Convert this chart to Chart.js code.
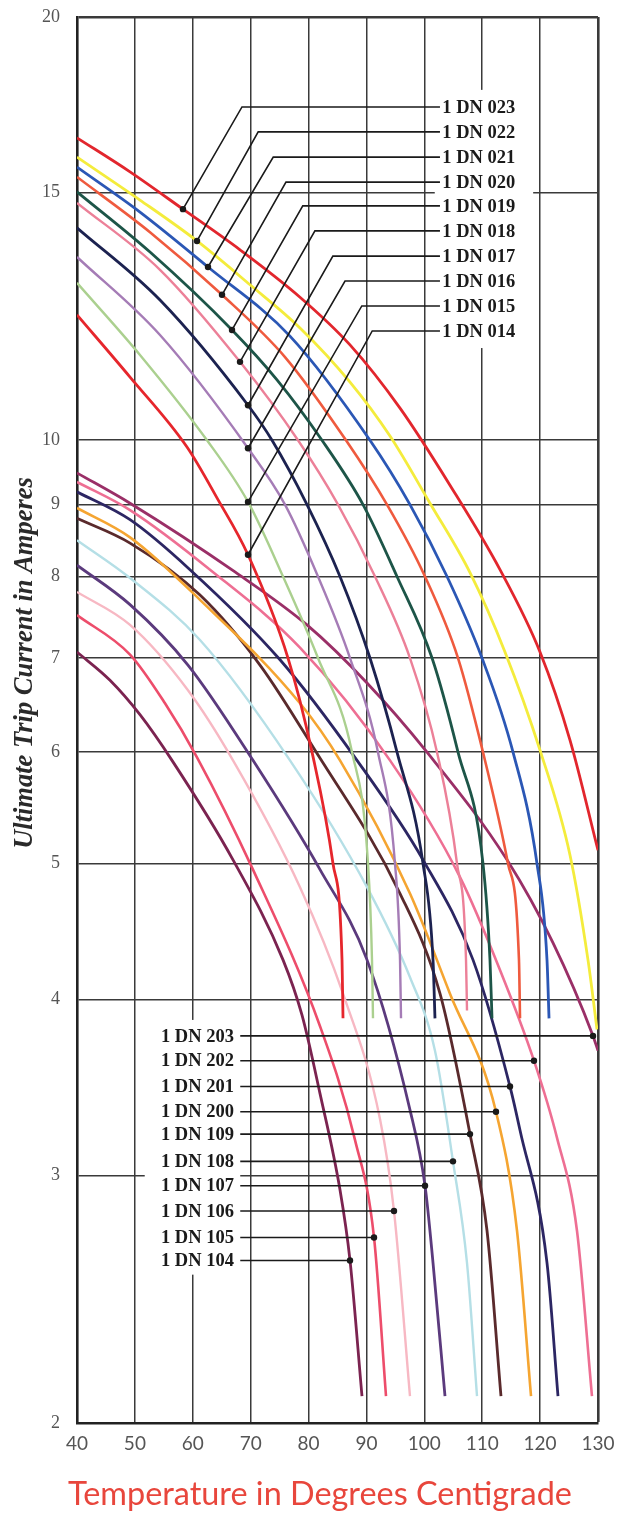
<!DOCTYPE html>
<html><head><meta charset="utf-8">
<script src="https://cdn.jsdelivr.net/npm/chart.js@4.4.1/dist/chart.umd.min.js"></script>
<style>html,body{margin:0;padding:0;background:#fff;}canvas{display:block;}</style>
</head><body>
<canvas id="c" width="623" height="1513"></canvas>
<script>
// ---- data: [temperature °C, ultimate trip current A] ----
const dn023 = [[40,16.41],[49.16,15.52],[58.31,14.60],[68.16,13.66],[78.52,12.64],[87.16,11.69],[95.80,10.54],[104.43,9.29],[113.07,8.09],[119.98,7.07],[125.16,6.12],[130,5.11]];
const dn022 = [[40,15.90],[50.88,14.82],[60.73,13.86],[69.89,12.90],[78.52,12.02],[87.16,11.00],[94.07,10.07],[100.98,9.02],[107.89,8.05],[113.93,7.07],[119.98,6.02],[125.16,5.07],[128.27,4.27],[129.83,3.81]];
const dn021 = [[40,15.64],[50.88,14.53],[62.63,13.28],[76.79,11.86],[90.61,10.0],[97.52,9.0],[103.92,8.0],[109.96,7.0],[115.32,6.0],[119.46,5.0],[121.19,4.27],[121.54,3.88]];
const dn020 = [[40,15.39],[52.61,14.06],[65.05,12.69],[75.93,11.46],[86.47,10.0],[93.55,9.0],[100.12,8.0],[105.82,7.0],[110.13,6.0],[114.45,5.0],[116.35,4.27],[116.53,3.88]];
const dn019 = [[40,15.02],[52.61,13.61],[66.78,11.98],[74.55,11.04],[82.32,10.0],[89.41,9.0],[95.28,8.0],[101.33,7.0],[105.82,6.0],[110.13,5.0],[111.34,4.27],[111.69,3.88]];
const dn018 = [[40,14.75],[54.34,13.22],[68.16,11.37],[78.18,10.0],[85.09,9.0],[91.48,8.0],[97.52,7.0],[102.19,6.0],[105.64,5.0],[107.20,4.27],[107.37,3.93]];
const dn017 = [[40,14.16],[54.34,12.58],[69.54,10.59],[73.69,10.0],[79.73,9.0],[85.43,8.0],[90.61,7.0],[95.28,6.0],[99.77,5.0],[101.50,4.27],[101.84,3.88]];
const dn016 = [[40,13.50],[54.34,11.88],[69.54,9.87],[75.93,9.0],[81.63,8.0],[87.16,7.0],[91.99,6.0],[94.93,5.0],[95.80,4.27],[95.97,3.88]];
const dn015 = [[40,12.94],[50.88,11.50],[62.46,10.0],[69.54,9.04],[75.59,8.0],[81.63,7.0],[87.51,6.0],[90.27,5.0],[90.96,4.27],[91.13,3.88]];
const dn014 = [[40,12.28],[49.16,11.09],[59.00,9.89],[64.18,9.10],[69.54,8.29],[76.45,7.0],[80.60,6.0],[84.22,5.0],[85.78,4.27],[85.95,3.88]];

const dn203 = [[40,9.48],[49.16,9.02],[67.29,8.06],[79.73,7.39],[90.10,6.72],[100.46,6.0],[114.28,5.03],[122.23,4.39],[129.14,3.77],[130,3.68]];
const dn202 = [[40,9.34],[49.16,8.92],[62.98,8.09],[78.52,7.12],[94.07,5.92],[106.16,4.89],[113.07,4.20],[118.94,3.62],[122.92,3.19],[126.37,2.74],[128.96,2.09]];
const dn201 = [[40,9.19],[49.16,8.78],[59.52,8.09],[75.07,6.98],[88.37,5.92],[99.77,5.03],[108.41,4.27],[114.80,3.47],[116.53,3.23],[121.19,2.60],[123.09,2.09]];
const dn200 = [[40,8.95],[49.16,8.53],[61.25,7.70],[78.52,6.50],[85.43,5.92],[97.52,4.76],[104.43,4.04],[112.38,3.33],[116.01,2.74],[118.43,2.09]];
const dn109 = [[40,8.80],[49.16,8.45],[61.25,7.76],[71.61,6.92],[80.77,6.05],[95.80,4.76],[102.71,4.04],[107.89,3.21],[110.83,2.74],[113.24,2.09]];
const dn108 = [[40,8.49],[49.16,7.98],[61.25,7.21],[76.79,5.92],[90.10,4.81],[97.52,4.15],[101.84,3.68],[104.95,3.07],[107.37,2.60],[109.10,2.09]];
const dn107 = [[40,8.15],[49.16,7.64],[59.17,6.92],[70.40,5.92],[81.98,4.95],[90.10,4.27],[97.52,3.34],[100.12,2.95],[101.50,2.60],[103.57,2.09]];
const dn106 = [[40,7.80],[49.16,7.39],[59.17,6.64],[66.95,5.92],[78.52,4.81],[85.95,4.04],[92.34,3.29],[94.76,2.83],[97.52,2.09]];
const dn105 = [[40,7.51],[49.16,7.04],[55.20,6.50],[60.73,5.95],[70.40,4.95],[81.98,3.83],[88.02,3.18],[91.31,2.71],[93.38,2.09]];
const dn104 = [[40,7.07],[45.70,6.75],[50.88,6.38],[56.41,5.92],[66.95,5.03],[75.59,4.27],[78.87,3.90],[81.98,3.43],[85.43,2.93],[87.16,2.61],[89.23,2.09]];

const yTicks = [2,3,4,5,6,7,8,9,10,15,20];
const xTicks = [40,50,60,70,80,90,100,110,120,130];

// labels and leader anchors (data coordinates)
const topLabels = ['1 DN 023','1 DN 022','1 DN 021','1 DN 020','1 DN 019','1 DN 018','1 DN 017','1 DN 016','1 DN 015','1 DN 014'];
const topLabelAmps = [17.26,16.57,15.90,15.26,14.68,14.09,13.52,12.98,12.46,11.96];
const topBendTemps = [68.5,71.3,73.9,76.1,79.0,81.1,84.2,86.3,89.2,91.0];
const topDots = [[58.31,14.60],[60.73,13.86],[62.63,13.28],[65.05,12.69],[66.78,11.98],[68.16,11.37],[69.54,10.59],[69.54,9.87],[69.54,9.04],[69.54,8.29]];
const botLabels = ['1 DN 203','1 DN 202','1 DN 201','1 DN 200','1 DN 109','1 DN 108','1 DN 107','1 DN 106','1 DN 105','1 DN 104'];
const botDots = [[129.14,3.77],[118.94,3.62],[114.80,3.47],[112.38,3.33],[107.89,3.21],[104.95,3.07],[100.12,2.95],[94.76,2.83],[91.31,2.71],[87.16,2.61]];

const curves = [
  [dn023,'#e2262d',2.8],[dn022,'#f4ec3c',2.8],[dn021,'#2b57b5',2.8],[dn020,'#ef5a3e',2.6],
  [dn019,'#1d5548',2.8],[dn018,'#ec8098',2.4],[dn017,'#1c2250',2.8],[dn016,'#a57cb6',2.4],
  [dn015,'#abd08f',2.4],[dn014,'#e6262c',2.8],
  [dn203,'#9a2f67',2.8],[dn202,'#ee6f93',2.6],[dn201,'#2c2663',2.8],[dn200,'#f5a531',2.6],
  [dn109,'#5a2a2c',2.8],[dn108,'#b5dfe6',2.4],[dn107,'#5b3a7d',2.8],[dn106,'#f7b8c3',2.4],
  [dn105,'#ed4d6b',2.6],[dn104,'#7b2350',2.8]
];

const datasets = curves.map(([d,c,w]) => ({
  data: d.map(p => ({x:p[0], y:p[1]})),
  borderColor: c, borderWidth: w, pointRadius: 0, fill: false,
  cubicInterpolationMode: 'monotone'
}));

function fitFont(ctx, text, style, family, target, guess){
  ctx.font = style + ' ' + guess + 'px ' + family;
  const w = ctx.measureText(text).width;
  const s = guess * target / w;
  ctx.font = style + ' ' + s.toFixed(2) + 'px ' + family;
}

const annot = {
  id: 'annot',
  beforeDatasetsDraw(chart){
    const ctx = chart.ctx, X = chart.scales.x, Y = chart.scales.y;
    ctx.save(); ctx.fillStyle = '#fff';
    const y15 = Y.getPixelForValue(15);
    ctx.fillRect(X.getPixelForValue(101.8), y15-3, X.getPixelForValue(118.8)-X.getPixelForValue(101.8), 6);
    const x110 = X.getPixelForValue(110);
    ctx.fillRect(x110-3, Y.getPixelForValue(17.75), 6, Y.getPixelForValue(11.63)-Y.getPixelForValue(17.75));
    const x60 = X.getPixelForValue(60);
    ctx.fillRect(x60-3, Y.getPixelForValue(3.87), 6, Y.getPixelForValue(2.55)-Y.getPixelForValue(3.87));
    const y3 = Y.getPixelForValue(3);
    ctx.fillRect(X.getPixelForValue(51.7), y3-3, X.getPixelForValue(68.2)-X.getPixelForValue(51.7), 6);
    ctx.restore();
  },
  afterDatasetsDraw(chart){
    const ctx = chart.ctx, X = chart.scales.x, Y = chart.scales.y;
    ctx.save();
    ctx.strokeStyle = '#1a1a1a'; ctx.fillStyle = '#1a1a1a'; ctx.lineWidth = 1.6;
    ctx.textBaseline = 'middle';
    ctx.font = 'bold 18.5px "Liberation Serif"';
    topLabels.forEach((lab,i) => {
      const ly = Y.getPixelForValue(topLabelAmps[i]);
      const bx = X.getPixelForValue(topBendTemps[i]);
      const ex = X.getPixelForValue(102.7);
      const dx = X.getPixelForValue(topDots[i][0]), dy = Y.getPixelForValue(topDots[i][1]);
      ctx.beginPath(); ctx.moveTo(ex, ly); ctx.lineTo(bx, ly); ctx.lineTo(dx, dy); ctx.stroke();
      ctx.beginPath(); ctx.arc(dx, dy, 3.2, 0, Math.PI*2); ctx.fill();
      ctx.textAlign = 'left';
      ctx.fillText(lab, X.getPixelForValue(103.1), ly+1);
    });
    botLabels.forEach((lab,i) => {
      const dx = X.getPixelForValue(botDots[i][0]), dy = Y.getPixelForValue(botDots[i][1]);
      const sx = X.getPixelForValue(68.2);
      ctx.beginPath(); ctx.moveTo(sx, dy); ctx.lineTo(dx, dy); ctx.stroke();
      ctx.beginPath(); ctx.arc(dx, dy, 3.2, 0, Math.PI*2); ctx.fill();
      ctx.textAlign = 'right';
      ctx.fillText(lab, X.getPixelForValue(67.1), dy+1);
    });
    ctx.restore();
  },
  afterDraw(chart){
    const ctx = chart.ctx;
    ctx.save();
    ctx.fillStyle = '#e8463c';
    ctx.textAlign = 'center'; ctx.textBaseline = 'middle';
    fitFont(ctx, 'Temperature in Degrees Centigrade', '', 'Lato', 504, 28);
    ctx.fillText('Temperature in Degrees Centigrade', 320, 1495);
    ctx.translate(25, 663); ctx.rotate(-Math.PI/2);
    ctx.fillStyle = '#2a2a2a';
    fitFont(ctx, 'Ultimate Trip Current in Amperes', 'bold italic', '"Liberation Serif"', 372, 20);
    ctx.fillText('Ultimate Trip Current in Amperes', 0, 0);
    ctx.restore();
  }
};

const gridW = (c) => (c.tick && (c.tick.value === 130 || c.tick.value === 20)) ? 2.6 : 1.5;

new Chart(document.getElementById('c'), {
  type: 'line',
  data: { datasets },
  options: {
    responsive: false, animation: false, devicePixelRatio: 1,
    layout: { padding: { left: 0, right: 25, top: 17, bottom: 0 } },
    plugins: { legend: { display: false }, tooltip: { enabled: false } },
    scales: {
      x: {
        type: 'linear', min: 40, max: 130,
        afterBuildTicks(s){ s.ticks = xTicks.map(v => ({value: v})); },
        ticks: { font: { family: 'Lato', size: 19 }, color: '#555', padding: 9, maxRotation: 0, autoSkip: false },
        grid: { color: '#3a3a3a', lineWidth: gridW, drawTicks: false },
        border: { display: true, color: '#222', width: 2.6 },
        afterFit(s){ s.height = 90; s.paddingLeft = 0; s.paddingRight = 0; }
      },
      y: {
        type: 'logarithmic', min: 2, max: 20,
        afterBuildTicks(s){ s.ticks = yTicks.map(v => ({value: v})); },
        ticks: { callback: v => String(v), autoSkip: false, font: { family: '"Liberation Serif"', size: 18 }, color: '#555', padding: 17 },
        grid: { color: '#3a3a3a', lineWidth: gridW, drawTicks: false },
        border: { display: true, color: '#222', width: 2.6 },
        afterFit(s){ s.width = 77; s.paddingTop = 0; s.paddingBottom = 0; }
      }
    }
  },
  plugins: [annot]
});
</script>
</body></html>
